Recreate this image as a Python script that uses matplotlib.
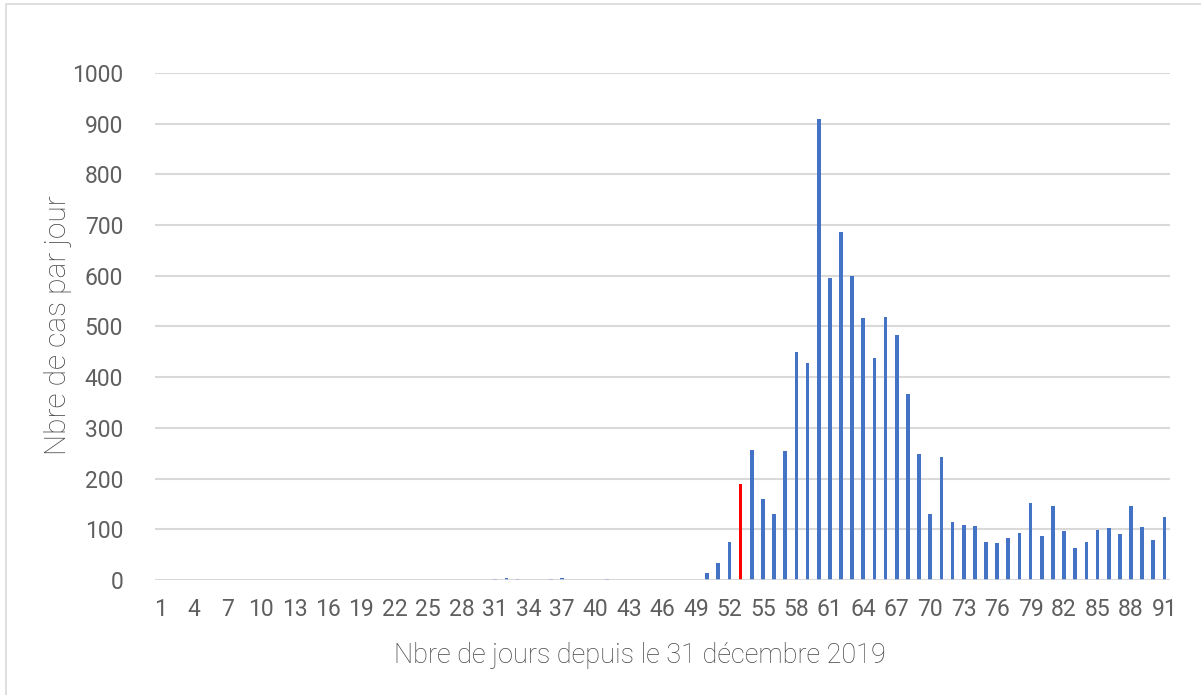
import numpy as np
import matplotlib.pyplot as plt
from matplotlib.patches import Rectangle

# Cas par jour, jour 1 = 31 decembre 2019
days = list(range(1, 92))
cases = [0, 0, 0, 0, 0, 0, 0, 0, 0, 0,
         0, 0, 0, 0, 0, 0, 0, 0, 0, 0,
         0, 0, 0, 0, 0, 0, 0, 0, 0, 0,
         1, 4, 1, 0, 0, 1, 3, 0, 0, 0,
         1, 0, 0, 0, 0, 0, 0, 0, 0, 14,
         34, 75, 189, 256, 160, 130, 254, 449, 427, 909,
         595, 686, 600, 516, 438, 519, 483, 367, 248, 130,
         242, 114, 109, 106, 75, 73, 83, 93, 151, 87,
         146, 97, 63, 75, 99, 103, 91, 145, 104, 78,
         124]
highlight_day = 53
tick_days = days[::3]
y_ticks = [0, 100, 200, 300, 400, 500, 600, 700, 800, 900, 1000]

blue = "#4472C4"
red = "#FF0000"
tick_txt = "#5F5F5F"
label_txt = "#454545"
grid_col = "#D9D9D9"

fig = plt.figure(figsize=(12.01, 6.95), dpi=100)
ax = fig.add_axes([0.1291, 0.1655, 0.8451, 0.7295])

colors = [red if d == highlight_day else blue for d in days]
ax.bar(days, cases, width=0.33, color=colors, zorder=3)

ax.set_xlim(0.5, 91.5)
ax.set_ylim(0, 1000)
ax.set_yticks(y_ticks)
ax.set_xticks(tick_days)
ax.set_xticklabels([str(d) for d in tick_days])

ax.grid(axis="y", color=grid_col, linewidth=1.5, zorder=0)
ax.axhline(0, color=grid_col, linewidth=1.8, zorder=4)
for s in ax.spines.values():
    s.set_visible(False)
ax.tick_params(axis="both", length=0, labelsize=16.5, labelcolor=tick_txt)
ax.tick_params(axis="y", pad=23)
ax.tick_params(axis="x", pad=13)
for lab in ax.get_xticklabels() + ax.get_yticklabels():
    lab.set_family("Roboto")

fig.text(0.533, 0.057, "Nbre de jours depuis le 31 décembre 2019",
         ha="center", va="center", fontsize=19.5, color=label_txt,
         family="Roboto", fontweight="light")
fig.text(0.048, 0.532, "Nbre de cas par jour", rotation=90,
         ha="center", va="center", fontsize=21.5, color=label_txt,
         family="Roboto", fontweight="light")

# cadre du graphique
fig.patches.append(Rectangle((6 / 1201, -0.1), 1.2, 1.1 - 4 / 695,
                             transform=fig.transFigure, fill=False,
                             edgecolor="#D9D9D9", linewidth=1.2))

fig.savefig("out.png", dpi=100)
